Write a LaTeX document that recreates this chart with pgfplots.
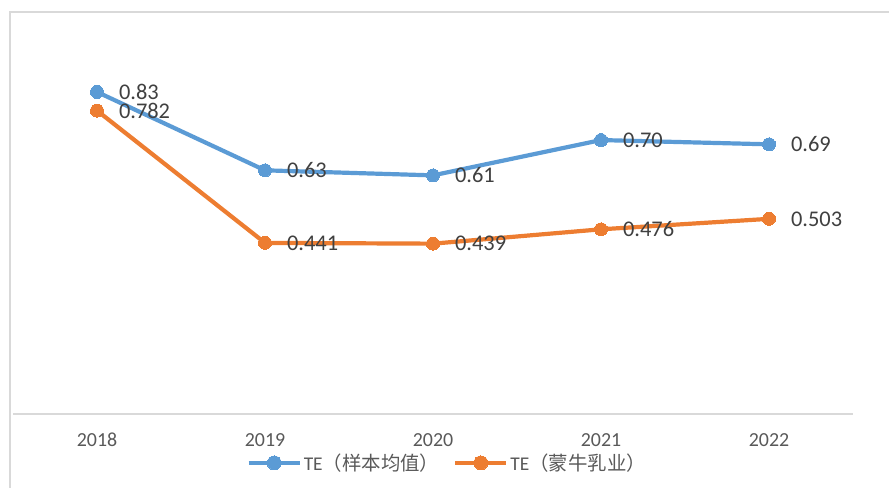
\documentclass[border=0pt]{standalone}
\usepackage{pgfplots}
\pgfplotsset{compat=1.18}
\usepackage{fontspec}
\setmainfont{Carlito}
\newfontfamily\cjk{Noto Sans CJK SC}
\definecolor{tblue}{HTML}{5B9BD5}
\definecolor{torange}{HTML}{ED7D31}
\definecolor{lgray}{HTML}{D9D9D9}
\definecolor{tgray}{HTML}{595959}
\definecolor{dgray}{HTML}{404040}
\begin{document}
\begin{tikzpicture}[x=1bp,y=1bp]
\path[use as bounding box] (0,0) rectangle (889,488);
\draw[lgray, line width=1.5bp] (10,0) -- (10,476) -- (889,476);
\begin{axis}[
  at={(13bp,74bp)}, anchor=south west,
  scale only axis, width=840bp, height=388bp,
  xmin=-0.5, xmax=4.5, ymin=0, ymax=1,
  axis x line=bottom, axis y line=none,
  x axis line style={lgray, line width=1.5bp, -},
  xtick={0,1,2,3,4}, xticklabels={2018,2019,2020,2021,2022},
  major tick length=0pt,
  x tick label style={anchor=center, yshift=-26bp, text=tgray, font=\fontsize{20}{24}\selectfont},
  clip=false,
  point meta=explicit symbolic,
  nodes near coords,
  every node near coord/.append style={anchor=west, xshift=22bp, inner sep=0pt, text=dgray, font=\fontsize{22.5}{26}\selectfont},
  legend columns=-1,
  legend style={at={(0.517,-0.126)}, anchor=center, draw=none, fill=none,
    font=\fontsize{19.5}{23}\selectfont, text=tgray,
    /tikz/every even column/.append style={column sep=12bp}},
  legend image code/.code={
    \draw[#1,mark=none] (0bp,0bp) -- (51bp,0bp);
    \draw[#1,mark size=7bp] plot coordinates {(25.5bp,0bp)};},
]
\addplot[tblue, line width=4.2bp, mark=*, mark size=6.5bp, mark options={solid, fill=tblue, draw=tblue, line width=0pt}]
  coordinates {(0,0.83)[0.83] (1,0.628)[0.63] (2,0.615)[0.61] (3,0.706)[0.70] (4,0.695)[0.69]};
\addlegendentry{TE{\cjk （样本均值）}}
\addplot[torange, line width=4.2bp, mark=*, mark size=6.5bp, mark options={solid, fill=torange, draw=torange, line width=0pt}]
  coordinates {(0,0.782)[0.782] (1,0.441)[0.441] (2,0.439)[0.439] (3,0.476)[0.476] (4,0.503)[0.503]};
\addlegendentry{TE{\cjk （蒙牛乳业）}}
\end{axis}
\end{tikzpicture}
\end{document}
